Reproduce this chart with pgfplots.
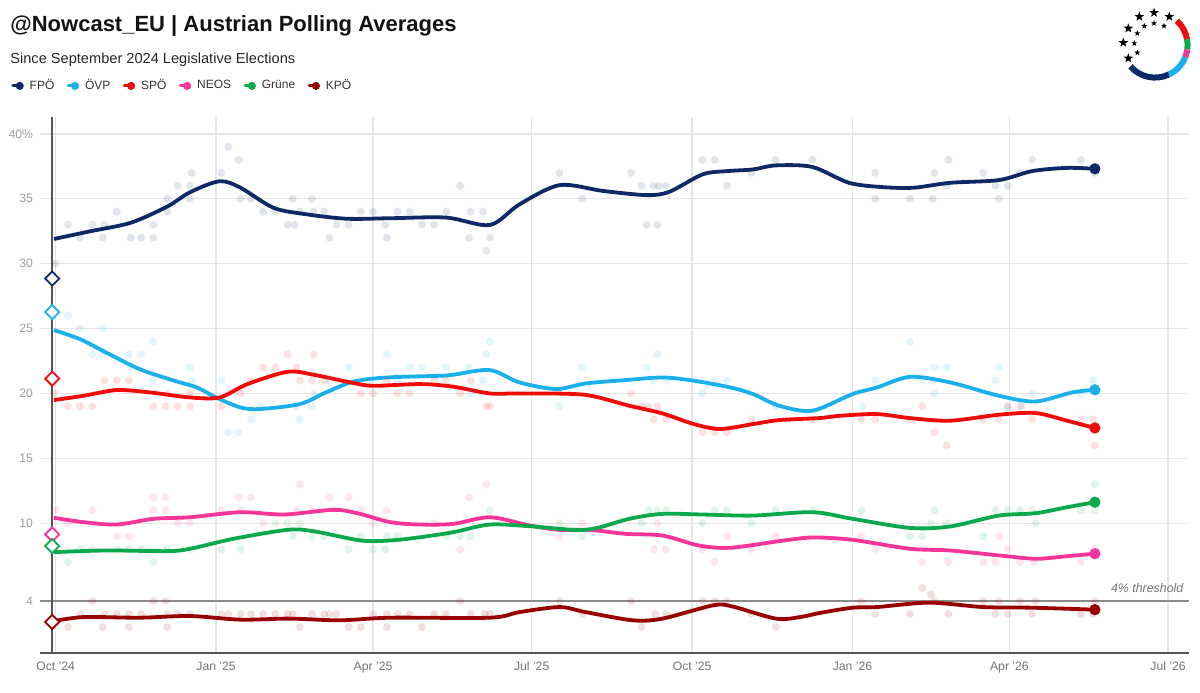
\documentclass[border=0pt]{standalone}
\usepackage{pgfplots}
\pgfplotsset{compat=1.18}
\usetikzlibrary{shapes.geometric}
\usepackage{fontspec}
\setmainfont{Liberation Sans}
\definecolor{fpo}{HTML}{0D2A66}
\definecolor{ovp}{HTML}{1AB0EC}
\definecolor{spo}{HTML}{F00A0A}
\definecolor{neos}{HTML}{F5359A}
\definecolor{grune}{HTML}{0BA84C}
\definecolor{kpo}{HTML}{990000}
\definecolor{axisgray}{HTML}{555555}
\definecolor{gridgray}{HTML}{E6E6E6}

\pgfplotsset{
  dots/.style={only marks, mark=*, mark size=2pt, mark options={draw opacity=0, fill opacity=0.12}, forget plot},
  trend/.style={smooth, line width=1.9pt, no marks, forget plot},
  endpt/.style={only marks, mark=*, mark size=2.6pt, forget plot},
  elect/.style={only marks, mark=square*, mark size=2.5pt, mark options={rotate=45, fill=white, line width=0.9pt}, forget plot},
}

\begin{document}
\begin{tikzpicture}
\useasboundingbox[fill=white] (0,0) rectangle (600pt,346pt);

% title, subtitle
\node[anchor=base west, inner sep=0pt, font=\bfseries\fontsize{11}{13}\selectfont, text=black!93] at (5pt,330.2pt) {@Nowcast\_EU | Austrian Polling Averages};
\node[anchor=base west, inner sep=0pt, font=\fontsize{7.3}{9}\selectfont, text=black!85] at (5pt,314.3pt) {Since September 2024 Legislative Elections};

% logo
\begin{scope}[line width=3pt]
\draw[spo]  ([shift={(48:16.3pt)}]577.5pt,323.5pt) arc (48:10:16.3pt);
\draw[grune]([shift={(10:16.3pt)}]577.5pt,323.5pt) arc (10:-8:16.3pt);
\draw[neos] ([shift={(-8:16.3pt)}]577.5pt,323.5pt) arc (-8:-22:16.3pt);
\draw[ovp]  ([shift={(-22:16.3pt)}]577.5pt,323.5pt) arc (-22:-65:16.3pt);
\draw[fpo]  ([shift={(-65:16.3pt)}]577.5pt,323.5pt) arc (-65:-139:16.3pt);
\end{scope}
\begin{scope}[every node/.style={star, star points=5, star point ratio=2.4, fill=black, inner sep=0pt, minimum size=5pt}]
\node at (569.65pt,337.65pt) {};
\node at (577pt,339.65pt) {};
\node at (584.65pt,337.65pt) {};
\node at (564.15pt,331.85pt) {};
\node at (561.65pt,324.65pt) {};
\node at (564.15pt,316.85pt) {};
\end{scope}
\begin{scope}[every node/.style={star, star points=5, star point ratio=2.4, fill=black, inner sep=0pt, minimum size=3.1pt}]
\node at (572.15pt,333pt) {};
\node at (577pt,334.35pt) {};
\node at (582pt,333pt) {};
\node at (568.65pt,329.35pt) {};
\node at (567.15pt,324.35pt) {};
\node at (568.65pt,319.65pt) {};
\end{scope}

\begin{axis}[
  at={(20pt,19.5pt)}, anchor=south west,
  scale only axis, width=574.5pt, height=268pt,
  xmin=-9, xmax=650, ymin=0, ymax=41.3,
  axis line style={draw=none},
  major tick length=0pt,
  xtick={0,92,182,273,365,457,547,638},
  xticklabels={Oct ’24,Jan ’25,Apr ’25,Jul ’25,Oct ’25,Jan ’26,Apr ’26,Jul ’26},
  ytick={4,10,15,20,25,30,35,40},
  yticklabels={4,10,15,20,25,30,35,40\%},
  /pgf/number format/assume math mode=true,
  xticklabel style={font=\fontsize{6.1}{7}\selectfont, text=black!55, yshift=-1pt},
  yticklabel style={font=\fontsize{6.1}{7}\selectfont, text=black!38},
  grid=major,
  major grid style={color=gridgray, line width=0.7pt},
  clip=false,
  legend columns=-1,
  legend style={at={(axis description cs:-0.0252,1.058)}, anchor=west, draw=none, fill=none,
    inner sep=0pt, font=\fontsize{6}{7}\selectfont, text=black!80,
    nodes={inner xsep=3pt},
    /tikz/every even column/.append style={column sep=3.2pt}},
  legend image code/.code={
    \draw[#1, line width=1.5pt, line cap=round] (0pt,0pt) -- (3pt,0pt);
    \fill[#1] (3.4pt,0pt) circle (1.8pt);
  },
]
\addlegendimage{fpo}
\addlegendimage{ovp}
\addlegendimage{spo}
\addlegendimage{neos}
\addlegendimage{grune}
\addlegendimage{kpo}
\legend{FPÖ,ÖVP,SPÖ,NEOS,Grüne,KPÖ}

% threshold and election line
\addplot[forget plot, color=black!45, line width=0.6pt] coordinates {(-9,4) (650,4)};
\addplot[forget plot, color=axisgray, line width=1pt] coordinates {(-2,0) (-2,41.3)};
\addplot[forget plot, color=axisgray, line width=1pt] coordinates {(-9,0) (650,0)};

% poll dots
\addplot[dots, color=fpo] coordinates {
(0,30) (7,33) (14,32) (21,33) (27,32) (28,33) (35,34) (43,32) (49,32) (56,32) (56,33)
(64,35) (64,34) (70,36) (77,35) (77,36) (78,37) (95,37) (99,39) (105,38) (106,35) (112,35)
(119,34) (126,34) (133,33) (136,35) (137,33) (140,34) (147,35) (148,34) (154,34) (157,32)
(161,33) (168,33) (175,34) (182,34) (189,33) (190,32) (196,34) (203,34) (210,33) (217,33)
(224,34) (232,36) (237,32) (238,34) (245,34) (247,31) (249,32) (289,37) (302,35) (330,37)
(336,36) (339,33) (343,36) (345,33) (346,36) (350,36) (371,38) (378,38) (385,36) (399,37)
(413,38) (434,38) (470,37) (470,35) (490,35) (503,35) (504,37) (511,36) (512,38) (532,37)
(539,36) (541,35) (546,36) (553,37) (560,38) (588,38) (596,37)};
\addplot[dots, color=ovp] coordinates {
(7,26) (14,25) (21,23) (27,25) (27,23) (42,23) (43,22) (49,23) (56,24) (56,21) (77,22)
(78,21) (95,21) (99,17) (105,17) (112,18) (118,19) (138,19) (140,18) (147,19) (148,20)
(157,21) (168,22) (190,23) (196,21) (203,22) (210,22) (224,22) (237,22) (238,20) (245,21)
(247,23) (249,24) (289,19) (302,22) (339,22) (343,21) (345,23) (350,21) (371,20) (378,21)
(385,21) (413,19) (463,19) (470,21) (490,24) (497,21) (503,21) (504,22) (504,20) (511,22)
(539,21) (541,22) (546,19) (554,19) (560,20) (588,20) (595,21)};
\addplot[dots, color=spo] coordinates {
(-1,20) (7,19) (14,19) (21,19) (28,21) (35,21) (42,21) (56,19) (63,19) (64,20) (70,19)
(77,19) (77,20) (95,19) (106,20) (112,21) (119,22) (126,22) (133,23) (138,22) (140,21)
(147,21) (148,23) (154,21) (175,20) (182,20) (190,21) (196,20) (203,20) (217,21) (224,21)
(232,20) (238,21) (247,19) (249,19) (330,20) (336,19) (340,19) (343,18) (345,19) (350,18)
(371,17) (378,17) (385,17) (399,18) (434,18) (462,18) (470,18) (490,18) (497,19) (504,17)
(511,16) (532,18) (541,18) (546,19) (553,19) (560,18) (588,18) (595,18) (596,16)};
\addplot[dots, color=neos] coordinates {
(0,11) (7,10) (21,11) (35,9) (42,9) (56,12) (56,11) (63,12) (63,11) (70,10) (77,10)
(95,11) (105,12) (106,11) (112,12) (119,10) (138,11) (140,13) (147,11) (157,12) (168,12)
(175,11) (182,10) (190,11) (217,10) (232,8) (237,12) (247,13) (289,9) (302,10) (343,8)
(345,10) (350,8) (371,8) (378,7) (385,9) (399,8) (413,9) (462,9) (470,8) (497,7) (512,7)
(532,7) (539,7) (541,9) (546,8) (553,7) (561,7) (588,7) (596,8)};
\addplot[dots, color=grune] coordinates {
(7,7) (14,8) (21,8) (35,8) (42,8) (49,8) (56,7) (64,8) (77,8) (95,8) (106,8) (126,10)
(133,10) (136,9) (140,10) (147,9) (154,9) (168,8) (175,9) (182,8) (189,8) (190,9) (196,9)
(224,9) (232,9) (238,9) (249,11) (289,10) (302,9) (336,10) (340,11) (345,11) (350,11)
(371,10) (378,11) (385,11) (399,10) (413,11) (434,11) (462,11) (490,9) (497,9) (504,11)
(502,10) (511,10) (532,9) (539,11) (546,11) (553,11) (560,11) (562,10) (588,11) (596,11)
(596,13)};
\addplot[dots, color=kpo] coordinates {
(7,2) (14,3) (21,4) (27,2) (28,3) (35,3) (42,3) (42,2) (49,3) (56,4) (63,4) (64,3) (64,2)
(70,3) (77,3) (95,3) (99,3) (106,3) (112,3) (119,3) (126,3) (133,3) (136,3) (140,2) (147,3)
(154,3) (157,3) (161,3) (168,2) (175,2) (182,3) (190,3) (190,2) (196,3) (203,3) (210,2)
(217,3) (224,3) (232,4) (238,3) (246,3) (249,3) (289,4) (302,3) (330,4) (336,2) (344,3)
(350,3) (371,4) (378,4) (385,4) (399,3) (413,2) (462,4) (470,3) (490,3) (497,5) (502,4.5)
(504,4) (512,3) (532,4) (539,3) (541,4) (546,3) (553,4) (560,3) (562,4) (588,3) (596,4)
(595,3)};

% trend lines
\addplot[trend, color=fpo] coordinates {
(-1,31.9) (20,32.5) (43,33.15) (64,34.4) (77,35.5) (94,36.35) (106,35.85) (125,34.3)
(144,33.8) (167,33.46) (192,33.5) (224,33.55) (249,32.98) (266,34.57) (289,36.05)
(314,35.6) (339,35.28) (352,35.54) (371,36.88) (385,37.13) (400,37.26) (413,37.57)
(434,37.45) (455,36.23) (474,35.9) (492,35.85) (513,36.23) (541,36.44) (560,37.13)
(580,37.38) (596,37.31)};
\addplot[trend, color=ovp] coordinates {
(-1,24.88) (14,24.18) (29,23.15) (48,21.88) (68,20.98) (81,20.46) (92,19.69) (106,18.92)
(117,18.8) (140,19.18) (155,20.08) (171,20.92) (190,21.23) (220,21.36) (228,21.44)
(249,21.8) (266,20.85) (287,20.34) (304,20.77) (327,21.03) (348,21.23) (366,20.98)
(387,20.46) (400,19.95) (415,19.05) (434,18.67) (457,19.95) (471,20.46) (490,21.28)
(513,20.85) (541,19.82) (562,19.38) (583,20.08) (596,20.28)};
\addplot[trend, color=spo] coordinates {
(-1,19.49) (16,19.82) (35,20.26) (54,20.08) (77,19.69) (94,19.69) (110,20.72) (133,21.67)
(148,21.44) (169,20.85) (182,20.59) (209,20.72) (228,20.52) (249,20.0) (266,20.0)
(303,19.9) (329,19.05) (348,18.46) (366,17.64) (381,17.26) (400,17.64) (415,17.95)
(438,18.1) (450,18.28) (471,18.41) (490,18.1) (513,17.9) (541,18.36) (562,18.49)
(580,17.9) (596,17.34)};
\addplot[trend, color=neos] coordinates {
(-1,10.42) (16,10.08) (35,9.9) (56,10.34) (77,10.46) (106,10.85) (131,10.67) (159,11.03)
(173,10.77) (192,10.08) (209,9.9) (228,9.95) (249,10.46) (272,9.82) (289,9.49) (306,9.49)
(327,9.18) (348,9.05) (369,8.28) (387,8.11) (415,8.62) (434,8.9) (457,8.72) (490,8.03)
(513,7.9) (541,7.52) (562,7.26) (580,7.46) (596,7.65)};
\addplot[trend, color=grune] coordinates {
(-1,7.77) (29,7.9) (64,7.85) (77,8.03) (102,8.8) (133,9.49) (148,9.38) (175,8.67)
(192,8.67) (209,8.92) (228,9.31) (249,9.9) (272,9.77) (304,9.49) (329,10.34) (348,10.72)
(371,10.67) (400,10.59) (434,10.85) (457,10.34) (490,9.64) (513,9.75) (541,10.59)
(562,10.77) (580,11.23) (596,11.62)};
\addplot[trend, color=kpo] coordinates {
(-1,2.46) (16,2.77) (48,2.72) (77,2.85) (106,2.57) (134,2.65) (163,2.52) (192,2.72)
(249,2.72) (266,3.15) (289,3.54) (304,3.15) (331,2.52) (348,2.65) (377,3.67) (388,3.59)
(413,2.65) (427,2.77) (438,3.08) (457,3.49) (471,3.54) (501,3.88) (532,3.54) (560,3.49)
(596,3.34)};

% latest values
\addplot[endpt, color=fpo] coordinates {(596,37.31)};
\addplot[endpt, color=ovp] coordinates {(596,20.28)};
\addplot[endpt, color=spo] coordinates {(596,17.34)};
\addplot[endpt, color=neos] coordinates {(596,7.65)};
\addplot[endpt, color=grune] coordinates {(596,11.62)};
\addplot[endpt, color=kpo] coordinates {(596,3.34)};

% election results
\addplot[elect, color=fpo] coordinates {(-2,28.85)};
\addplot[elect, color=ovp] coordinates {(-2,26.27)};
\addplot[elect, color=spo] coordinates {(-2,21.14)};
\addplot[elect, color=neos] coordinates {(-2,9.14)};
\addplot[elect, color=grune] coordinates {(-2,8.24)};
\addplot[elect, color=kpo] coordinates {(-2,2.39)};

\node[anchor=base east, inner sep=0pt, font=\itshape\fontsize{6.2}{7}\selectfont, text=black!55] at (axis cs:647,4.67) {4\% threshold};
\end{axis}
\end{tikzpicture}
\end{document}
